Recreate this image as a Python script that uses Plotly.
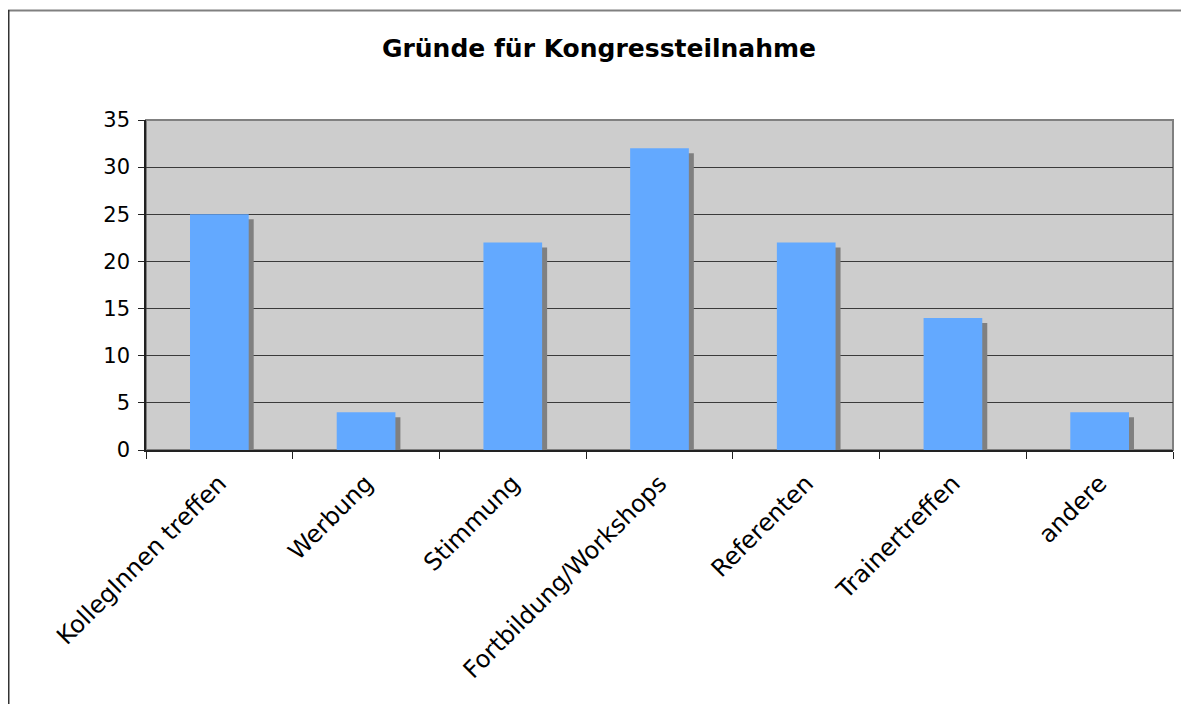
import plotly.graph_objects as go

categories = ["KollegInnen treffen", "Werbung", "Stimmung", "Fortbildung/Workshops",
              "Referenten", "Trainertreffen", "andere"]
values = [25, 4, 22, 32, 22, 14, 4]
y_ticks = [0, 5, 10, 15, 20, 25, 30, 35]
title_text = "Gründe für Kongressteilnahme"

# page body has an 8px margin, so the figure is drawn from (8, 8)
OFF = 8
W, H = 1189 - OFF, 704 - OFF
L, T = 146 - OFF, 120 - OFF
R = W - (1173 - OFF)
B = H - (450 - OFF)
plot_w = W - L - R
plot_h = H - T - B
cat_px = plot_w / len(categories)
unit_px = plot_h / 35.0
shadow_dx = 5 / cat_px
shadow_dy = 5 / unit_px
bar_w = 0.4

fig = go.Figure()
fig.add_trace(go.Bar(
    x=categories, y=[v - shadow_dy for v in values],
    width=bar_w, offset=-bar_w / 2 + shadow_dx,
    marker=dict(color="#808080", line=dict(width=0)),
    hoverinfo="skip", showlegend=False,
))
fig.add_trace(go.Bar(
    x=categories, y=values,
    width=bar_w, offset=-bar_w / 2,
    marker=dict(color="#63A9FF", line=dict(width=0)),
    showlegend=False,
))

font_family = "DejaVu Sans, Verdana, sans-serif"

fig.update_layout(
    width=W, height=H,
    margin=dict(l=L, r=R, t=T, b=B, pad=0),
    barmode="overlay",
    paper_bgcolor="white",
    plot_bgcolor="#CDCDCD",
    font=dict(family=font_family, color="black"),
    title=dict(text="<b>" + title_text + "</b>", x=(599 - OFF) / W, xref="container",
               y=1 - (48 - OFF) / H, yref="container", xanchor="center", yanchor="middle",
               font=dict(size=25, family=font_family, color="black")),
    xaxis=dict(
        type="category",
        tickangle=-45,
        tickfont=dict(size=24, family=font_family, color="black"),
        showline=True, linecolor="#222222", linewidth=1.5,
        ticks="outside", tickson="boundaries", ticklen=7, tickcolor="#222222", tickwidth=1,
        ticklabelstandoff=8,
        showgrid=False, zeroline=False,
        range=[-0.5, len(categories) - 0.5],
    ),
    yaxis=dict(
        range=[0, 35], tickvals=y_ticks,
        tickfont=dict(size=21, family=font_family, color="black"),
        showline=True, linecolor="#222222", linewidth=1.5,
        ticks="outside", ticklen=6, tickcolor="#222222", tickwidth=1,
        ticklabelstandoff=4,
        showgrid=True, gridcolor="#3A3A3A", gridwidth=1,
        zeroline=False,
    ),
    shapes=[
        dict(type="rect", xref="x domain", yref="y domain", x0=0, x1=1, y0=0, y1=1,
             line=dict(color="#808080", width=2), layer="below"),
        dict(type="line", xref="paper", yref="paper",
             x0=(8 - OFF - L) / plot_w, x1=(W + 20 - L) / plot_w,
             y0=1 + (T - (10.5 - OFF)) / plot_h, y1=1 + (T - (10.5 - OFF)) / plot_h,
             line=dict(color="#808080", width=2)),
        dict(type="line", xref="paper", yref="paper",
             x0=(8.75 - OFF - L) / plot_w, x1=(8.75 - OFF - L) / plot_w,
             y0=-(B + 20) / plot_h, y1=1 + (T - (10 - OFF)) / plot_h,
             line=dict(color="#333333", width=1.5)),
    ],
)

fig.write_html("out.html")
